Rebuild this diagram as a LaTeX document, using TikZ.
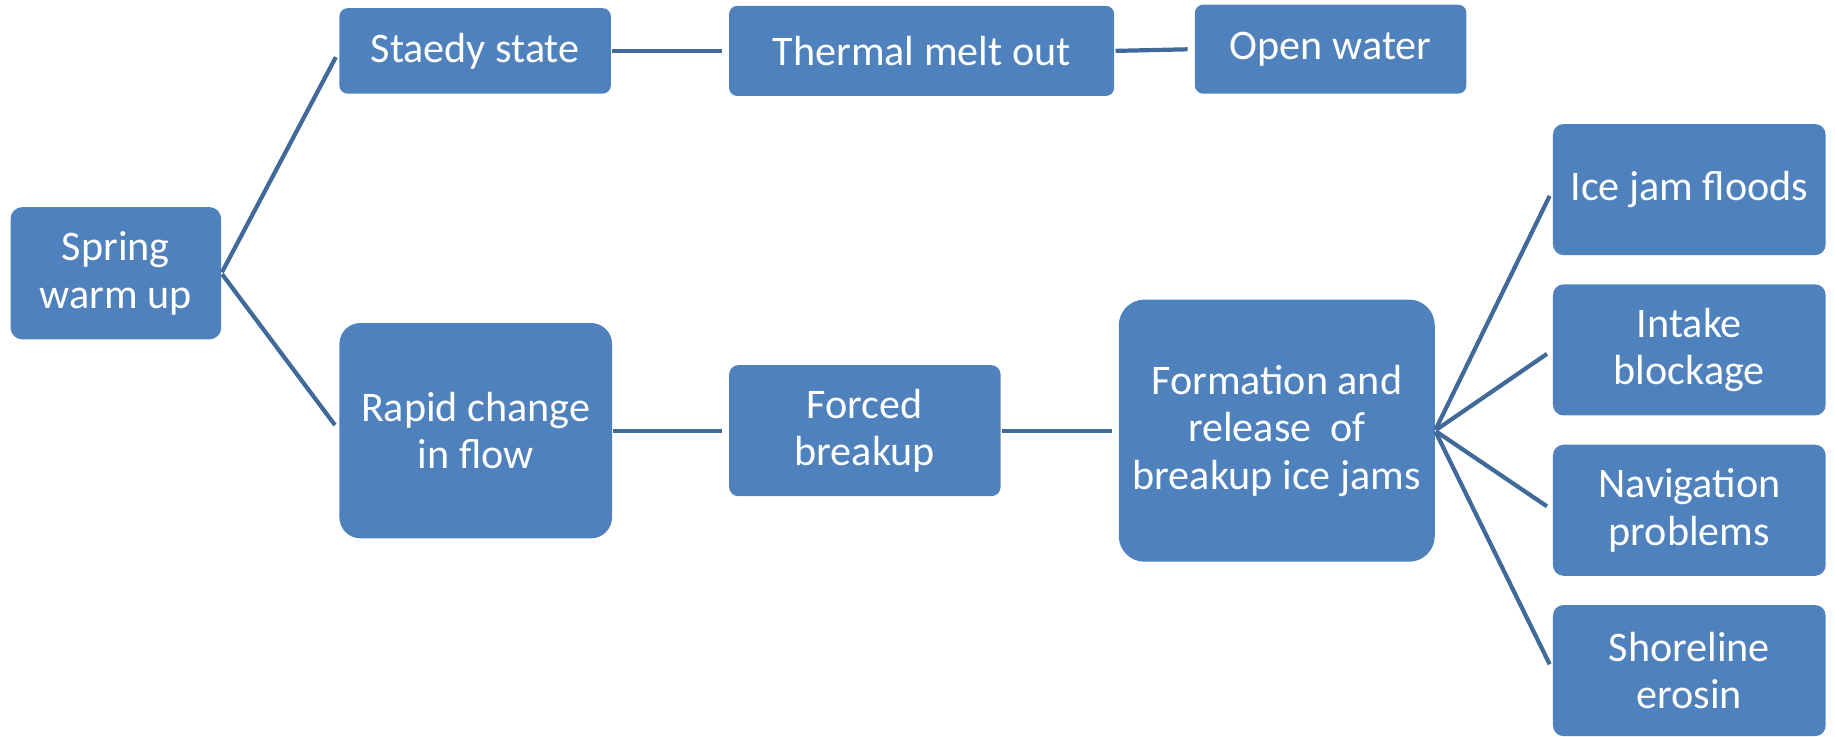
\documentclass[tikz,border=0pt]{standalone}
\usepackage{fontspec}
\setmainfont{Carlito}
\definecolor{boxfill}{HTML}{4F81BD}
\definecolor{linecol}{HTML}{41699A}
\begin{document}
\begin{tikzpicture}[x=1pt,y=-1pt,
  box/.style={fill=boxfill, draw=none, text=white, align=center, inner sep=0pt,
    font=\fontsize{36}{40.5}\selectfont},
  conn/.style={draw=linecol, line width=3.6pt, shorten >=6pt, shorten <=1pt}]
\useasboundingbox (0,0) rectangle (1568,629);
\node[box, minimum width=180pt, minimum height=113pt, rounded corners=10pt] (spring) at (99,233.5) {Spring\\warm up};
\node[box, minimum width=232pt, minimum height=73pt, rounded corners=7pt] (staedy) at (406,43.5) {Staedy state};
\node[box, minimum width=329pt, minimum height=77pt, rounded corners=7pt] (thermal) at (787.5,43.5) {Thermal melt out};
\node[box, minimum width=232pt, minimum height=76pt, rounded corners=7pt] (open) at (1137,42) {Open water};
\node[box, minimum width=233pt, minimum height=184pt, rounded corners=18pt] (rapid) at (406.5,368) {Rapid change\\in flow};
\node[box, minimum width=232pt, minimum height=112pt, rounded corners=8pt] (forced) at (739,368) {Forced\\breakup};
\node[box, minimum width=270pt, minimum height=224pt, rounded corners=22pt] (formation) at (1091,368) {Formation and\\release\ \ of\\breakup ice jams};
\node[box, minimum width=233pt, minimum height=112pt, rounded corners=9pt] (ice) at (1443.5,162) {Ice jam floods};
\node[box, minimum width=233pt, minimum height=112pt, rounded corners=9pt] (intake) at (1443.5,299) {Intake\\blockage};
\node[box, minimum width=233pt, minimum height=112pt, rounded corners=9pt] (nav) at (1443.5,436) {Navigation\\problems};
\node[box, minimum width=233pt, minimum height=112pt, rounded corners=9pt] (shore) at (1443.5,573) {Shoreline\\erosin};
\draw[conn] (spring.east) -- (staedy.west);
\draw[conn] (spring.east) -- (rapid.west);
\draw[conn] (staedy.east) -- (thermal.west);
\draw[conn] (thermal.east) -- (open.west);
\draw[conn] (rapid.east) -- (forced.west);
\draw[conn] (forced.east) -- (formation.west);
\draw[conn] (formation.east) -- (ice.west);
\draw[conn] (formation.east) -- (intake.west);
\draw[conn] (formation.east) -- (nav.west);
\draw[conn] (formation.east) -- (shore.west);
\end{tikzpicture}
\end{document}
